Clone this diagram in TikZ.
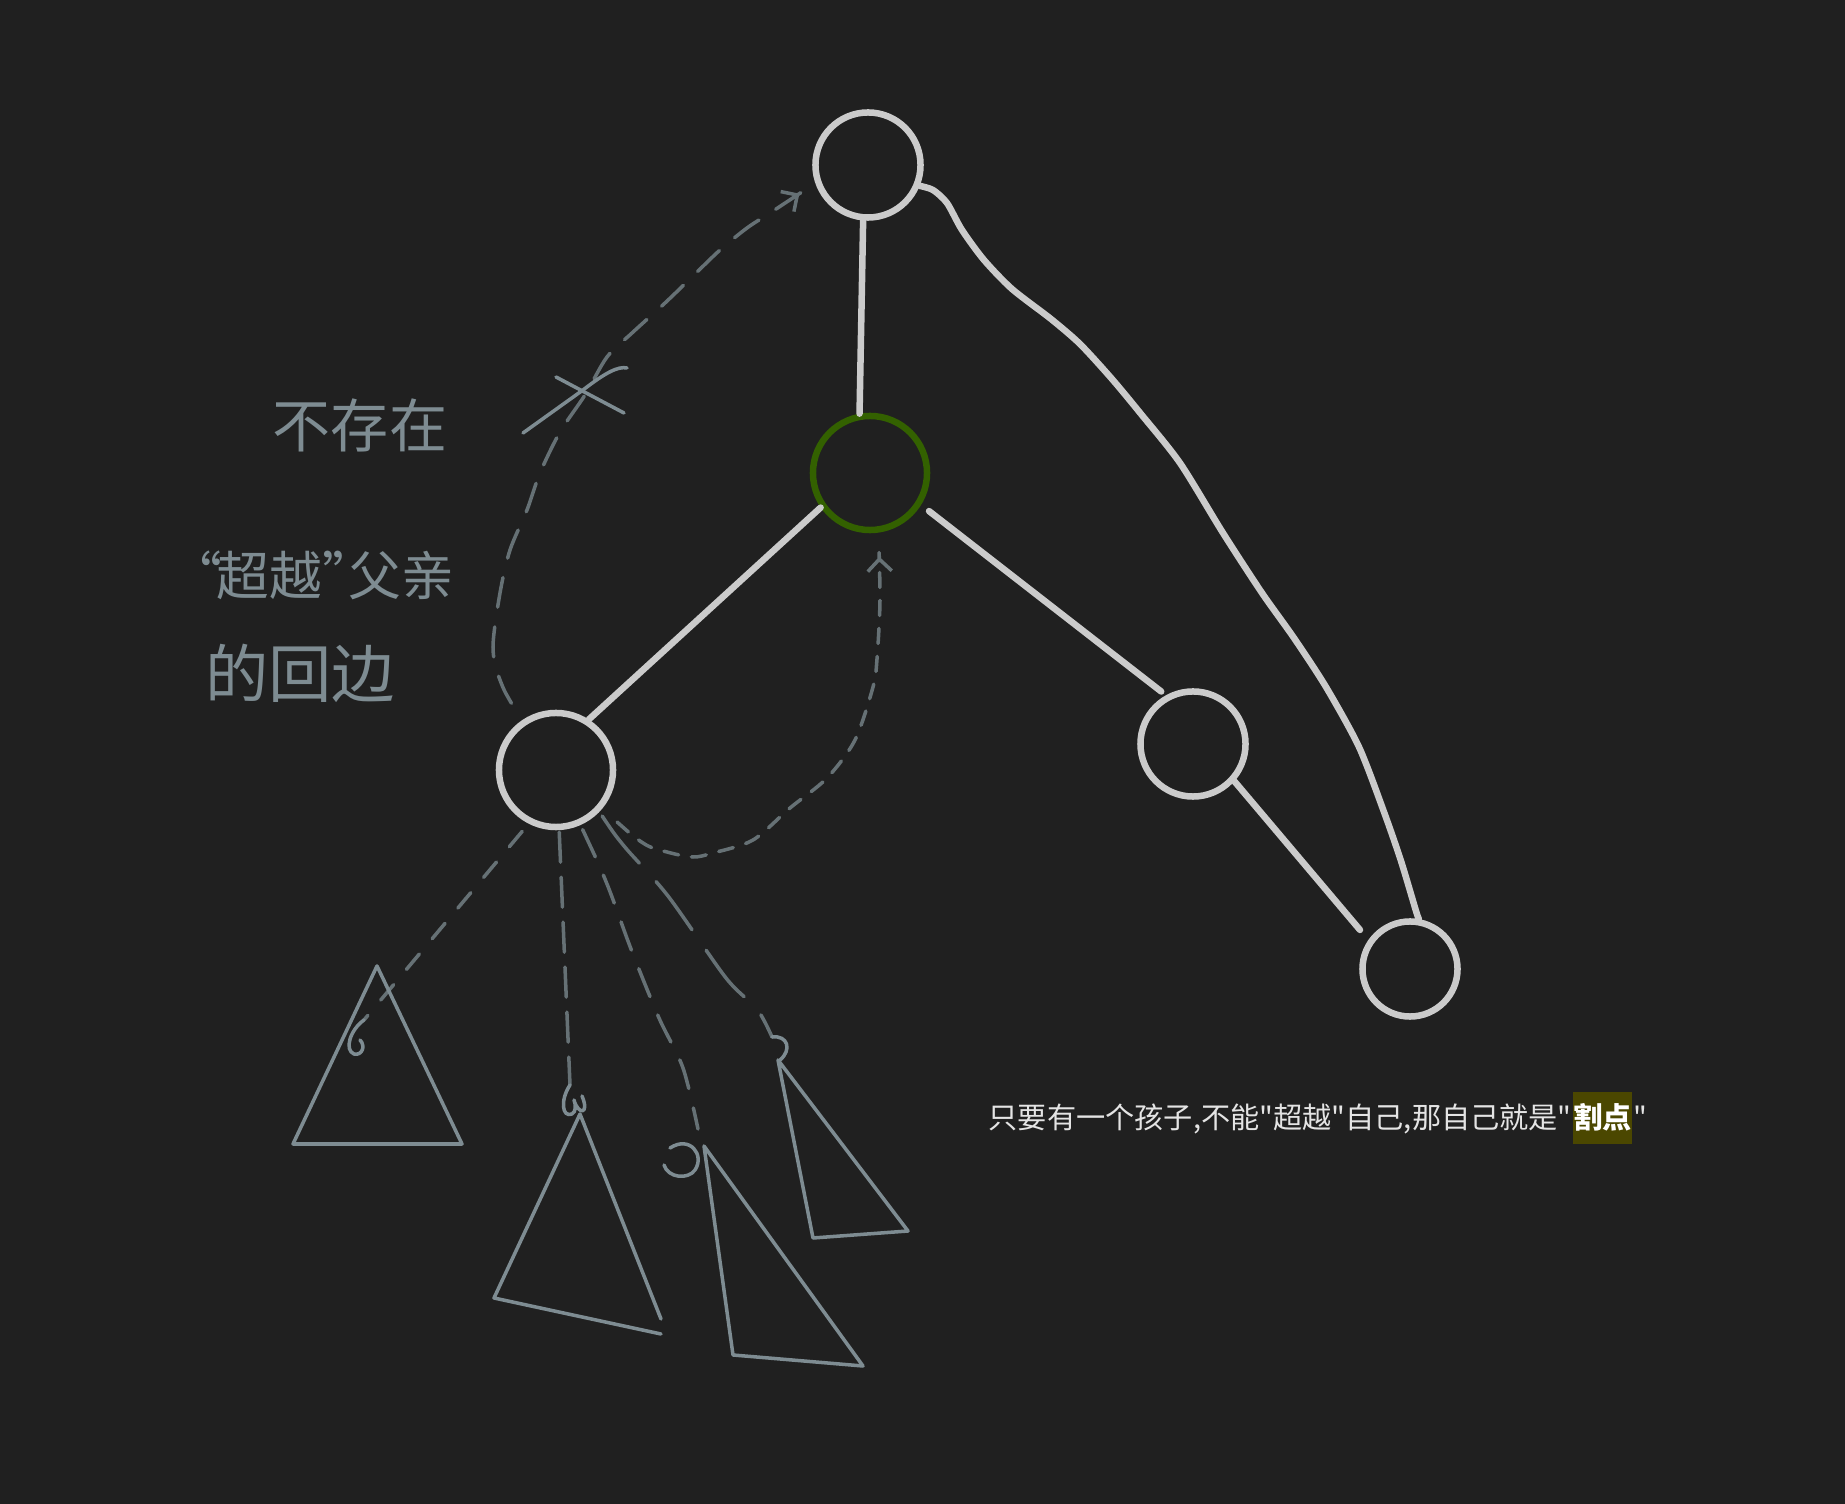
\documentclass[tikz,border=0pt]{standalone}
\usepackage{fontspec}
\newfontfamily\cjk{Noto Sans CJK SC}
\usetikzlibrary{arrows.meta}
\definecolor{board}{HTML}{202020}
\definecolor{stroke}{HTML}{CBCBCB}
\definecolor{cutgreen}{HTML}{336100}
\definecolor{chalk}{HTML}{7E8C92}
\definecolor{mark}{HTML}{4B4700}
\definecolor{note}{HTML}{E4E4E4}
\tikzset{
  vtx/.style={circle, draw=stroke, line width=1.85pt, inner sep=0pt, minimum size=1.05cm},
  treeedge/.style={draw=stroke, line width=1.85pt, line cap=round, line join=round},
  chalkline/.style={draw=chalk, line width=1pt, line cap=round, line join=round},
  chalkfaint/.style={chalkline, draw=chalk!75!board},
  hand/.style={text=chalk, inner sep=0pt, font=\cjk\fontsize{#1}{#1}\selectfont},
  notetext/.style={anchor=base west, inner sep=0pt, text=note, font=\cjk\fontsize{8.3pt}{10pt}\selectfont},
}
\begin{document}
\begin{tikzpicture}[x=0.01cm, y=-0.01cm]
  \fill[board] (0,0) rectangle (1845,1504);

  \node[vtx] (root) at (868,165) {};
  \node[vtx, draw=cutgreen, minimum size=1.14cm] (cutv) at (870,473) {};
  \node[vtx, minimum size=1.14cm] (lchild) at (556,770) {};
  \node[vtx] (rchild) at (1193,744) {};
  \node[vtx, minimum size=0.95cm] (leaf) at (1410,969) {};

  \draw[treeedge] (root.-95) -- (cutv.100);
  \draw[treeedge] (cutv.215) -- (lchild.57);
  \draw[treeedge, shorten <=0.1cm, shorten >=0.06cm] (cutv.-32) -- (rchild.119);
  \draw[treeedge, shorten >=0.13cm] (rchild.-42) -- (leaf.145);
  \draw[treeedge] plot[smooth, tension=0.45] coordinates {(root.-22) (933,190) (947,203) (962,230)
    (984,260) (1012,289) (1051,319) (1080,344) (1112,379) (1141,414) (1180,463) (1223,533)
    (1262,593) (1294,638) (1326,687) (1359,747) (1384,812) (1401,861) (1416,911) (leaf.80)};

  \draw[chalkfaint, dash pattern=on 0.3cm off 0.2cm, -{Straight Barb[length=0.12cm, width=0.24cm]},
    shorten <=0.2cm, shorten >=0.19cm] plot[smooth] coordinates {(lchild.125) (500,680) (493,647)
    (500,593) (510,550) (527,510) (540,473) (560,432) (585,395) (607,357) (632,333) (665,303)
    (692,277) (720,250) (747,228) (770,213) (root.199)};
  \draw[chalkline] (523,433) -- (583,390) .. controls (605,373) and (618,366) .. (627,368);
  \draw[chalkline] (556,377) -- (624,413);

  \draw[chalkfaint, dash pattern=on 0.15cm off 0.13cm, -{Straight Barb[length=0.12cm, width=0.24cm]},
    shorten <=0.2cm, shorten >=0.24cm] plot[smooth] coordinates {(lchild.-40) (643,843) (667,852)
    (693,857) (713,853) (753,840) (790,808) (827,778) (855,740) (873,687) (877,659) (880,600) (cutv.-82)};

  \coordinate (c1) at (364,1020);
  \coordinate (c2) at (570,1085);
  \coordinate (c3) at (698,1129);
  \coordinate (c4) at (772,1037);
  \draw[chalkfaint, dash pattern=on 0.2cm off 0.2cm, shorten <=0.1cm] (lchild.-117) -- (c1);
  \draw[chalkfaint, dash pattern=on 0.3cm off 0.15cm, shorten <=0.02cm] (lchild.-87) -- (c2);
  \draw[chalkfaint, dash pattern=on 0.3cm off 0.2cm, shorten <=0.05cm] plot[smooth] coordinates {(lchild.-66)
    (607,884) (631,949) (659,1018) (683,1068) (c3)};
  \draw[chalkfaint, dash pattern=on 0.6cm off 0.25cm, shorten <=0.05cm] plot[smooth] coordinates {(lchild.-44)
    (624,846) (668,896) (726,978) (757,1009) (c4)};
  \draw[chalkline] (c1) .. controls (350,1030) and (344,1050) .. (354,1054)
    .. controls (362,1056) and (366,1046) .. (360,1040);
  \draw[chalkline] (c2) .. controls (560,1100) and (562,1118) .. (572,1114)
    .. controls (576,1112) and (576,1105) .. (574,1100) .. controls (578,1115) and (590,1115) .. (582,1096);
  \draw[chalkline] (670,1148) .. controls (690,1135) and (705,1155) .. (695,1170)
    .. controls (688,1180) and (668,1178) .. (664,1165);
  \draw[chalkline] (c4) .. controls (788,1035) and (792,1050) .. (780,1060);

  \draw[chalkline] (377,966) -- (293,1144) -- (462,1144) -- cycle;
  \draw[chalkline] (661,1319) -- (580,1114) -- (494,1298) -- (661,1334);
  \draw[chalkline] (704,1146) -- (733,1355) -- (863,1366) -- cycle;
  \draw[chalkline] (778,1060) -- (813,1238) -- (908,1231) -- cycle;

  \node[hand=16.5pt] (hw1) at (360,425) {不存在};
  \node[hand=15pt] (hw2) at (325,575) {\kern-0.5em“\kern-0.1em超越”\kern-0.5em父亲};
  \node[hand=18pt] (hw3) at (300,673) {的回边};

  \node[notetext] (note) at (988,1129) {只要有一个孩子,不能"超越"自己,那自己就是"};
  \node[notetext, inner ysep=0.12cm, fill=mark, text=white, font=\cjk\bfseries\fontsize{8.3pt}{10pt}\selectfont]
    (cutword) at (note.base east) {割点};
  \node[notetext] (endq) at (cutword.base east) {"};
\end{tikzpicture}
\end{document}
